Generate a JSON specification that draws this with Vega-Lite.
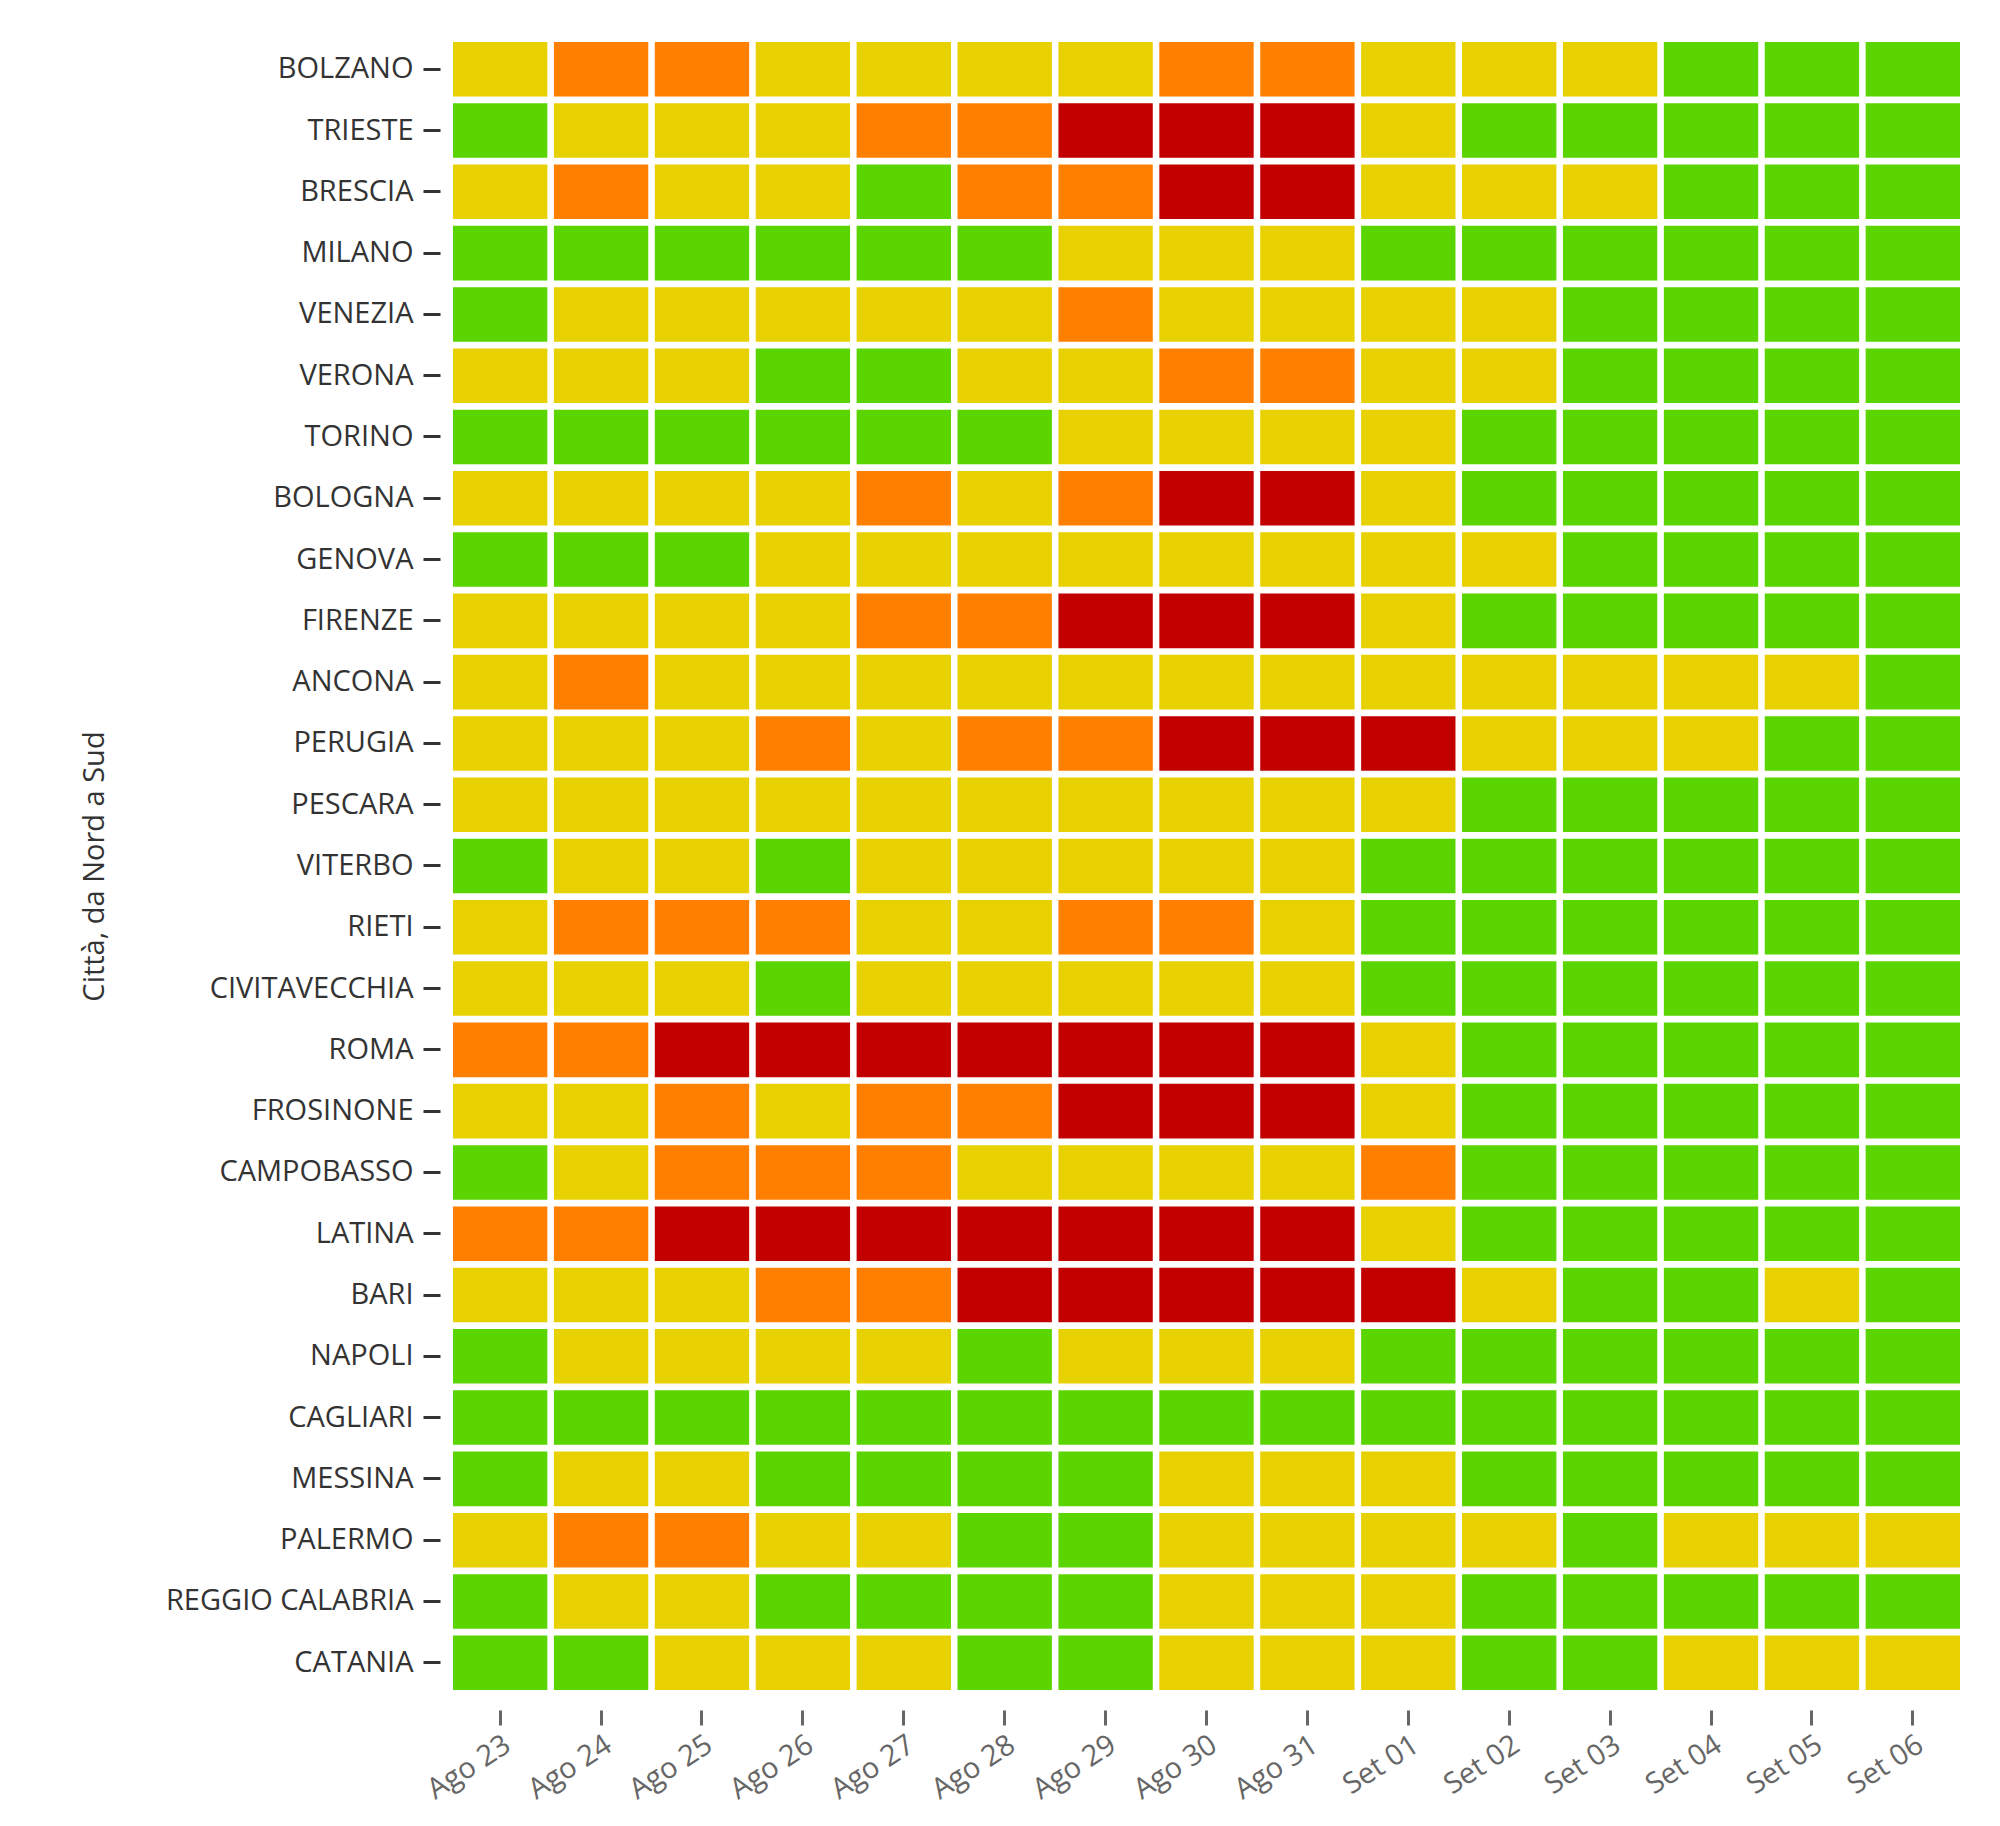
{
  "$schema": "https://vega.github.io/schema/vega-lite/v6.json",
  "width": 1507,
  "height": 1648,
  "autosize": "none",
  "padding": {"left": 453, "top": 42, "right": 40, "bottom": 136},
  "datasets": {
    "celle": [
      {"citta":"BOLZANO","giorno":"Ago 23","livello":1},{"citta":"BOLZANO","giorno":"Ago 24","livello":2},{"citta":"BOLZANO","giorno":"Ago 25","livello":2},{"citta":"BOLZANO","giorno":"Ago 26","livello":1},{"citta":"BOLZANO","giorno":"Ago 27","livello":1},{"citta":"BOLZANO","giorno":"Ago 28","livello":1},{"citta":"BOLZANO","giorno":"Ago 29","livello":1},{"citta":"BOLZANO","giorno":"Ago 30","livello":2},{"citta":"BOLZANO","giorno":"Ago 31","livello":2},{"citta":"BOLZANO","giorno":"Set 01","livello":1},{"citta":"BOLZANO","giorno":"Set 02","livello":1},{"citta":"BOLZANO","giorno":"Set 03","livello":1},{"citta":"BOLZANO","giorno":"Set 04","livello":0},{"citta":"BOLZANO","giorno":"Set 05","livello":0},{"citta":"BOLZANO","giorno":"Set 06","livello":0},
      {"citta":"TRIESTE","giorno":"Ago 23","livello":0},{"citta":"TRIESTE","giorno":"Ago 24","livello":1},{"citta":"TRIESTE","giorno":"Ago 25","livello":1},{"citta":"TRIESTE","giorno":"Ago 26","livello":1},{"citta":"TRIESTE","giorno":"Ago 27","livello":2},{"citta":"TRIESTE","giorno":"Ago 28","livello":2},{"citta":"TRIESTE","giorno":"Ago 29","livello":3},{"citta":"TRIESTE","giorno":"Ago 30","livello":3},{"citta":"TRIESTE","giorno":"Ago 31","livello":3},{"citta":"TRIESTE","giorno":"Set 01","livello":1},{"citta":"TRIESTE","giorno":"Set 02","livello":0},{"citta":"TRIESTE","giorno":"Set 03","livello":0},{"citta":"TRIESTE","giorno":"Set 04","livello":0},{"citta":"TRIESTE","giorno":"Set 05","livello":0},{"citta":"TRIESTE","giorno":"Set 06","livello":0},
      {"citta":"BRESCIA","giorno":"Ago 23","livello":1},{"citta":"BRESCIA","giorno":"Ago 24","livello":2},{"citta":"BRESCIA","giorno":"Ago 25","livello":1},{"citta":"BRESCIA","giorno":"Ago 26","livello":1},{"citta":"BRESCIA","giorno":"Ago 27","livello":0},{"citta":"BRESCIA","giorno":"Ago 28","livello":2},{"citta":"BRESCIA","giorno":"Ago 29","livello":2},{"citta":"BRESCIA","giorno":"Ago 30","livello":3},{"citta":"BRESCIA","giorno":"Ago 31","livello":3},{"citta":"BRESCIA","giorno":"Set 01","livello":1},{"citta":"BRESCIA","giorno":"Set 02","livello":1},{"citta":"BRESCIA","giorno":"Set 03","livello":1},{"citta":"BRESCIA","giorno":"Set 04","livello":0},{"citta":"BRESCIA","giorno":"Set 05","livello":0},{"citta":"BRESCIA","giorno":"Set 06","livello":0},
      {"citta":"MILANO","giorno":"Ago 23","livello":0},{"citta":"MILANO","giorno":"Ago 24","livello":0},{"citta":"MILANO","giorno":"Ago 25","livello":0},{"citta":"MILANO","giorno":"Ago 26","livello":0},{"citta":"MILANO","giorno":"Ago 27","livello":0},{"citta":"MILANO","giorno":"Ago 28","livello":0},{"citta":"MILANO","giorno":"Ago 29","livello":1},{"citta":"MILANO","giorno":"Ago 30","livello":1},{"citta":"MILANO","giorno":"Ago 31","livello":1},{"citta":"MILANO","giorno":"Set 01","livello":0},{"citta":"MILANO","giorno":"Set 02","livello":0},{"citta":"MILANO","giorno":"Set 03","livello":0},{"citta":"MILANO","giorno":"Set 04","livello":0},{"citta":"MILANO","giorno":"Set 05","livello":0},{"citta":"MILANO","giorno":"Set 06","livello":0},
      {"citta":"VENEZIA","giorno":"Ago 23","livello":0},{"citta":"VENEZIA","giorno":"Ago 24","livello":1},{"citta":"VENEZIA","giorno":"Ago 25","livello":1},{"citta":"VENEZIA","giorno":"Ago 26","livello":1},{"citta":"VENEZIA","giorno":"Ago 27","livello":1},{"citta":"VENEZIA","giorno":"Ago 28","livello":1},{"citta":"VENEZIA","giorno":"Ago 29","livello":2},{"citta":"VENEZIA","giorno":"Ago 30","livello":1},{"citta":"VENEZIA","giorno":"Ago 31","livello":1},{"citta":"VENEZIA","giorno":"Set 01","livello":1},{"citta":"VENEZIA","giorno":"Set 02","livello":1},{"citta":"VENEZIA","giorno":"Set 03","livello":0},{"citta":"VENEZIA","giorno":"Set 04","livello":0},{"citta":"VENEZIA","giorno":"Set 05","livello":0},{"citta":"VENEZIA","giorno":"Set 06","livello":0},
      {"citta":"VERONA","giorno":"Ago 23","livello":1},{"citta":"VERONA","giorno":"Ago 24","livello":1},{"citta":"VERONA","giorno":"Ago 25","livello":1},{"citta":"VERONA","giorno":"Ago 26","livello":0},{"citta":"VERONA","giorno":"Ago 27","livello":0},{"citta":"VERONA","giorno":"Ago 28","livello":1},{"citta":"VERONA","giorno":"Ago 29","livello":1},{"citta":"VERONA","giorno":"Ago 30","livello":2},{"citta":"VERONA","giorno":"Ago 31","livello":2},{"citta":"VERONA","giorno":"Set 01","livello":1},{"citta":"VERONA","giorno":"Set 02","livello":1},{"citta":"VERONA","giorno":"Set 03","livello":0},{"citta":"VERONA","giorno":"Set 04","livello":0},{"citta":"VERONA","giorno":"Set 05","livello":0},{"citta":"VERONA","giorno":"Set 06","livello":0},
      {"citta":"TORINO","giorno":"Ago 23","livello":0},{"citta":"TORINO","giorno":"Ago 24","livello":0},{"citta":"TORINO","giorno":"Ago 25","livello":0},{"citta":"TORINO","giorno":"Ago 26","livello":0},{"citta":"TORINO","giorno":"Ago 27","livello":0},{"citta":"TORINO","giorno":"Ago 28","livello":0},{"citta":"TORINO","giorno":"Ago 29","livello":1},{"citta":"TORINO","giorno":"Ago 30","livello":1},{"citta":"TORINO","giorno":"Ago 31","livello":1},{"citta":"TORINO","giorno":"Set 01","livello":1},{"citta":"TORINO","giorno":"Set 02","livello":0},{"citta":"TORINO","giorno":"Set 03","livello":0},{"citta":"TORINO","giorno":"Set 04","livello":0},{"citta":"TORINO","giorno":"Set 05","livello":0},{"citta":"TORINO","giorno":"Set 06","livello":0},
      {"citta":"BOLOGNA","giorno":"Ago 23","livello":1},{"citta":"BOLOGNA","giorno":"Ago 24","livello":1},{"citta":"BOLOGNA","giorno":"Ago 25","livello":1},{"citta":"BOLOGNA","giorno":"Ago 26","livello":1},{"citta":"BOLOGNA","giorno":"Ago 27","livello":2},{"citta":"BOLOGNA","giorno":"Ago 28","livello":1},{"citta":"BOLOGNA","giorno":"Ago 29","livello":2},{"citta":"BOLOGNA","giorno":"Ago 30","livello":3},{"citta":"BOLOGNA","giorno":"Ago 31","livello":3},{"citta":"BOLOGNA","giorno":"Set 01","livello":1},{"citta":"BOLOGNA","giorno":"Set 02","livello":0},{"citta":"BOLOGNA","giorno":"Set 03","livello":0},{"citta":"BOLOGNA","giorno":"Set 04","livello":0},{"citta":"BOLOGNA","giorno":"Set 05","livello":0},{"citta":"BOLOGNA","giorno":"Set 06","livello":0},
      {"citta":"GENOVA","giorno":"Ago 23","livello":0},{"citta":"GENOVA","giorno":"Ago 24","livello":0},{"citta":"GENOVA","giorno":"Ago 25","livello":0},{"citta":"GENOVA","giorno":"Ago 26","livello":1},{"citta":"GENOVA","giorno":"Ago 27","livello":1},{"citta":"GENOVA","giorno":"Ago 28","livello":1},{"citta":"GENOVA","giorno":"Ago 29","livello":1},{"citta":"GENOVA","giorno":"Ago 30","livello":1},{"citta":"GENOVA","giorno":"Ago 31","livello":1},{"citta":"GENOVA","giorno":"Set 01","livello":1},{"citta":"GENOVA","giorno":"Set 02","livello":1},{"citta":"GENOVA","giorno":"Set 03","livello":0},{"citta":"GENOVA","giorno":"Set 04","livello":0},{"citta":"GENOVA","giorno":"Set 05","livello":0},{"citta":"GENOVA","giorno":"Set 06","livello":0},
      {"citta":"FIRENZE","giorno":"Ago 23","livello":1},{"citta":"FIRENZE","giorno":"Ago 24","livello":1},{"citta":"FIRENZE","giorno":"Ago 25","livello":1},{"citta":"FIRENZE","giorno":"Ago 26","livello":1},{"citta":"FIRENZE","giorno":"Ago 27","livello":2},{"citta":"FIRENZE","giorno":"Ago 28","livello":2},{"citta":"FIRENZE","giorno":"Ago 29","livello":3},{"citta":"FIRENZE","giorno":"Ago 30","livello":3},{"citta":"FIRENZE","giorno":"Ago 31","livello":3},{"citta":"FIRENZE","giorno":"Set 01","livello":1},{"citta":"FIRENZE","giorno":"Set 02","livello":0},{"citta":"FIRENZE","giorno":"Set 03","livello":0},{"citta":"FIRENZE","giorno":"Set 04","livello":0},{"citta":"FIRENZE","giorno":"Set 05","livello":0},{"citta":"FIRENZE","giorno":"Set 06","livello":0},
      {"citta":"ANCONA","giorno":"Ago 23","livello":1},{"citta":"ANCONA","giorno":"Ago 24","livello":2},{"citta":"ANCONA","giorno":"Ago 25","livello":1},{"citta":"ANCONA","giorno":"Ago 26","livello":1},{"citta":"ANCONA","giorno":"Ago 27","livello":1},{"citta":"ANCONA","giorno":"Ago 28","livello":1},{"citta":"ANCONA","giorno":"Ago 29","livello":1},{"citta":"ANCONA","giorno":"Ago 30","livello":1},{"citta":"ANCONA","giorno":"Ago 31","livello":1},{"citta":"ANCONA","giorno":"Set 01","livello":1},{"citta":"ANCONA","giorno":"Set 02","livello":1},{"citta":"ANCONA","giorno":"Set 03","livello":1},{"citta":"ANCONA","giorno":"Set 04","livello":1},{"citta":"ANCONA","giorno":"Set 05","livello":1},{"citta":"ANCONA","giorno":"Set 06","livello":0},
      {"citta":"PERUGIA","giorno":"Ago 23","livello":1},{"citta":"PERUGIA","giorno":"Ago 24","livello":1},{"citta":"PERUGIA","giorno":"Ago 25","livello":1},{"citta":"PERUGIA","giorno":"Ago 26","livello":2},{"citta":"PERUGIA","giorno":"Ago 27","livello":1},{"citta":"PERUGIA","giorno":"Ago 28","livello":2},{"citta":"PERUGIA","giorno":"Ago 29","livello":2},{"citta":"PERUGIA","giorno":"Ago 30","livello":3},{"citta":"PERUGIA","giorno":"Ago 31","livello":3},{"citta":"PERUGIA","giorno":"Set 01","livello":3},{"citta":"PERUGIA","giorno":"Set 02","livello":1},{"citta":"PERUGIA","giorno":"Set 03","livello":1},{"citta":"PERUGIA","giorno":"Set 04","livello":1},{"citta":"PERUGIA","giorno":"Set 05","livello":0},{"citta":"PERUGIA","giorno":"Set 06","livello":0},
      {"citta":"PESCARA","giorno":"Ago 23","livello":1},{"citta":"PESCARA","giorno":"Ago 24","livello":1},{"citta":"PESCARA","giorno":"Ago 25","livello":1},{"citta":"PESCARA","giorno":"Ago 26","livello":1},{"citta":"PESCARA","giorno":"Ago 27","livello":1},{"citta":"PESCARA","giorno":"Ago 28","livello":1},{"citta":"PESCARA","giorno":"Ago 29","livello":1},{"citta":"PESCARA","giorno":"Ago 30","livello":1},{"citta":"PESCARA","giorno":"Ago 31","livello":1},{"citta":"PESCARA","giorno":"Set 01","livello":1},{"citta":"PESCARA","giorno":"Set 02","livello":0},{"citta":"PESCARA","giorno":"Set 03","livello":0},{"citta":"PESCARA","giorno":"Set 04","livello":0},{"citta":"PESCARA","giorno":"Set 05","livello":0},{"citta":"PESCARA","giorno":"Set 06","livello":0},
      {"citta":"VITERBO","giorno":"Ago 23","livello":0},{"citta":"VITERBO","giorno":"Ago 24","livello":1},{"citta":"VITERBO","giorno":"Ago 25","livello":1},{"citta":"VITERBO","giorno":"Ago 26","livello":0},{"citta":"VITERBO","giorno":"Ago 27","livello":1},{"citta":"VITERBO","giorno":"Ago 28","livello":1},{"citta":"VITERBO","giorno":"Ago 29","livello":1},{"citta":"VITERBO","giorno":"Ago 30","livello":1},{"citta":"VITERBO","giorno":"Ago 31","livello":1},{"citta":"VITERBO","giorno":"Set 01","livello":0},{"citta":"VITERBO","giorno":"Set 02","livello":0},{"citta":"VITERBO","giorno":"Set 03","livello":0},{"citta":"VITERBO","giorno":"Set 04","livello":0},{"citta":"VITERBO","giorno":"Set 05","livello":0},{"citta":"VITERBO","giorno":"Set 06","livello":0},
      {"citta":"RIETI","giorno":"Ago 23","livello":1},{"citta":"RIETI","giorno":"Ago 24","livello":2},{"citta":"RIETI","giorno":"Ago 25","livello":2},{"citta":"RIETI","giorno":"Ago 26","livello":2},{"citta":"RIETI","giorno":"Ago 27","livello":1},{"citta":"RIETI","giorno":"Ago 28","livello":1},{"citta":"RIETI","giorno":"Ago 29","livello":2},{"citta":"RIETI","giorno":"Ago 30","livello":2},{"citta":"RIETI","giorno":"Ago 31","livello":1},{"citta":"RIETI","giorno":"Set 01","livello":0},{"citta":"RIETI","giorno":"Set 02","livello":0},{"citta":"RIETI","giorno":"Set 03","livello":0},{"citta":"RIETI","giorno":"Set 04","livello":0},{"citta":"RIETI","giorno":"Set 05","livello":0},{"citta":"RIETI","giorno":"Set 06","livello":0},
      {"citta":"CIVITAVECCHIA","giorno":"Ago 23","livello":1},{"citta":"CIVITAVECCHIA","giorno":"Ago 24","livello":1},{"citta":"CIVITAVECCHIA","giorno":"Ago 25","livello":1},{"citta":"CIVITAVECCHIA","giorno":"Ago 26","livello":0},{"citta":"CIVITAVECCHIA","giorno":"Ago 27","livello":1},{"citta":"CIVITAVECCHIA","giorno":"Ago 28","livello":1},{"citta":"CIVITAVECCHIA","giorno":"Ago 29","livello":1},{"citta":"CIVITAVECCHIA","giorno":"Ago 30","livello":1},{"citta":"CIVITAVECCHIA","giorno":"Ago 31","livello":1},{"citta":"CIVITAVECCHIA","giorno":"Set 01","livello":0},{"citta":"CIVITAVECCHIA","giorno":"Set 02","livello":0},{"citta":"CIVITAVECCHIA","giorno":"Set 03","livello":0},{"citta":"CIVITAVECCHIA","giorno":"Set 04","livello":0},{"citta":"CIVITAVECCHIA","giorno":"Set 05","livello":0},{"citta":"CIVITAVECCHIA","giorno":"Set 06","livello":0},
      {"citta":"ROMA","giorno":"Ago 23","livello":2},{"citta":"ROMA","giorno":"Ago 24","livello":2},{"citta":"ROMA","giorno":"Ago 25","livello":3},{"citta":"ROMA","giorno":"Ago 26","livello":3},{"citta":"ROMA","giorno":"Ago 27","livello":3},{"citta":"ROMA","giorno":"Ago 28","livello":3},{"citta":"ROMA","giorno":"Ago 29","livello":3},{"citta":"ROMA","giorno":"Ago 30","livello":3},{"citta":"ROMA","giorno":"Ago 31","livello":3},{"citta":"ROMA","giorno":"Set 01","livello":1},{"citta":"ROMA","giorno":"Set 02","livello":0},{"citta":"ROMA","giorno":"Set 03","livello":0},{"citta":"ROMA","giorno":"Set 04","livello":0},{"citta":"ROMA","giorno":"Set 05","livello":0},{"citta":"ROMA","giorno":"Set 06","livello":0},
      {"citta":"FROSINONE","giorno":"Ago 23","livello":1},{"citta":"FROSINONE","giorno":"Ago 24","livello":1},{"citta":"FROSINONE","giorno":"Ago 25","livello":2},{"citta":"FROSINONE","giorno":"Ago 26","livello":1},{"citta":"FROSINONE","giorno":"Ago 27","livello":2},{"citta":"FROSINONE","giorno":"Ago 28","livello":2},{"citta":"FROSINONE","giorno":"Ago 29","livello":3},{"citta":"FROSINONE","giorno":"Ago 30","livello":3},{"citta":"FROSINONE","giorno":"Ago 31","livello":3},{"citta":"FROSINONE","giorno":"Set 01","livello":1},{"citta":"FROSINONE","giorno":"Set 02","livello":0},{"citta":"FROSINONE","giorno":"Set 03","livello":0},{"citta":"FROSINONE","giorno":"Set 04","livello":0},{"citta":"FROSINONE","giorno":"Set 05","livello":0},{"citta":"FROSINONE","giorno":"Set 06","livello":0},
      {"citta":"CAMPOBASSO","giorno":"Ago 23","livello":0},{"citta":"CAMPOBASSO","giorno":"Ago 24","livello":1},{"citta":"CAMPOBASSO","giorno":"Ago 25","livello":2},{"citta":"CAMPOBASSO","giorno":"Ago 26","livello":2},{"citta":"CAMPOBASSO","giorno":"Ago 27","livello":2},{"citta":"CAMPOBASSO","giorno":"Ago 28","livello":1},{"citta":"CAMPOBASSO","giorno":"Ago 29","livello":1},{"citta":"CAMPOBASSO","giorno":"Ago 30","livello":1},{"citta":"CAMPOBASSO","giorno":"Ago 31","livello":1},{"citta":"CAMPOBASSO","giorno":"Set 01","livello":2},{"citta":"CAMPOBASSO","giorno":"Set 02","livello":0},{"citta":"CAMPOBASSO","giorno":"Set 03","livello":0},{"citta":"CAMPOBASSO","giorno":"Set 04","livello":0},{"citta":"CAMPOBASSO","giorno":"Set 05","livello":0},{"citta":"CAMPOBASSO","giorno":"Set 06","livello":0},
      {"citta":"LATINA","giorno":"Ago 23","livello":2},{"citta":"LATINA","giorno":"Ago 24","livello":2},{"citta":"LATINA","giorno":"Ago 25","livello":3},{"citta":"LATINA","giorno":"Ago 26","livello":3},{"citta":"LATINA","giorno":"Ago 27","livello":3},{"citta":"LATINA","giorno":"Ago 28","livello":3},{"citta":"LATINA","giorno":"Ago 29","livello":3},{"citta":"LATINA","giorno":"Ago 30","livello":3},{"citta":"LATINA","giorno":"Ago 31","livello":3},{"citta":"LATINA","giorno":"Set 01","livello":1},{"citta":"LATINA","giorno":"Set 02","livello":0},{"citta":"LATINA","giorno":"Set 03","livello":0},{"citta":"LATINA","giorno":"Set 04","livello":0},{"citta":"LATINA","giorno":"Set 05","livello":0},{"citta":"LATINA","giorno":"Set 06","livello":0},
      {"citta":"BARI","giorno":"Ago 23","livello":1},{"citta":"BARI","giorno":"Ago 24","livello":1},{"citta":"BARI","giorno":"Ago 25","livello":1},{"citta":"BARI","giorno":"Ago 26","livello":2},{"citta":"BARI","giorno":"Ago 27","livello":2},{"citta":"BARI","giorno":"Ago 28","livello":3},{"citta":"BARI","giorno":"Ago 29","livello":3},{"citta":"BARI","giorno":"Ago 30","livello":3},{"citta":"BARI","giorno":"Ago 31","livello":3},{"citta":"BARI","giorno":"Set 01","livello":3},{"citta":"BARI","giorno":"Set 02","livello":1},{"citta":"BARI","giorno":"Set 03","livello":0},{"citta":"BARI","giorno":"Set 04","livello":0},{"citta":"BARI","giorno":"Set 05","livello":1},{"citta":"BARI","giorno":"Set 06","livello":0},
      {"citta":"NAPOLI","giorno":"Ago 23","livello":0},{"citta":"NAPOLI","giorno":"Ago 24","livello":1},{"citta":"NAPOLI","giorno":"Ago 25","livello":1},{"citta":"NAPOLI","giorno":"Ago 26","livello":1},{"citta":"NAPOLI","giorno":"Ago 27","livello":1},{"citta":"NAPOLI","giorno":"Ago 28","livello":0},{"citta":"NAPOLI","giorno":"Ago 29","livello":1},{"citta":"NAPOLI","giorno":"Ago 30","livello":1},{"citta":"NAPOLI","giorno":"Ago 31","livello":1},{"citta":"NAPOLI","giorno":"Set 01","livello":0},{"citta":"NAPOLI","giorno":"Set 02","livello":0},{"citta":"NAPOLI","giorno":"Set 03","livello":0},{"citta":"NAPOLI","giorno":"Set 04","livello":0},{"citta":"NAPOLI","giorno":"Set 05","livello":0},{"citta":"NAPOLI","giorno":"Set 06","livello":0},
      {"citta":"CAGLIARI","giorno":"Ago 23","livello":0},{"citta":"CAGLIARI","giorno":"Ago 24","livello":0},{"citta":"CAGLIARI","giorno":"Ago 25","livello":0},{"citta":"CAGLIARI","giorno":"Ago 26","livello":0},{"citta":"CAGLIARI","giorno":"Ago 27","livello":0},{"citta":"CAGLIARI","giorno":"Ago 28","livello":0},{"citta":"CAGLIARI","giorno":"Ago 29","livello":0},{"citta":"CAGLIARI","giorno":"Ago 30","livello":0},{"citta":"CAGLIARI","giorno":"Ago 31","livello":0},{"citta":"CAGLIARI","giorno":"Set 01","livello":0},{"citta":"CAGLIARI","giorno":"Set 02","livello":0},{"citta":"CAGLIARI","giorno":"Set 03","livello":0},{"citta":"CAGLIARI","giorno":"Set 04","livello":0},{"citta":"CAGLIARI","giorno":"Set 05","livello":0},{"citta":"CAGLIARI","giorno":"Set 06","livello":0},
      {"citta":"MESSINA","giorno":"Ago 23","livello":0},{"citta":"MESSINA","giorno":"Ago 24","livello":1},{"citta":"MESSINA","giorno":"Ago 25","livello":1},{"citta":"MESSINA","giorno":"Ago 26","livello":0},{"citta":"MESSINA","giorno":"Ago 27","livello":0},{"citta":"MESSINA","giorno":"Ago 28","livello":0},{"citta":"MESSINA","giorno":"Ago 29","livello":0},{"citta":"MESSINA","giorno":"Ago 30","livello":1},{"citta":"MESSINA","giorno":"Ago 31","livello":1},{"citta":"MESSINA","giorno":"Set 01","livello":1},{"citta":"MESSINA","giorno":"Set 02","livello":0},{"citta":"MESSINA","giorno":"Set 03","livello":0},{"citta":"MESSINA","giorno":"Set 04","livello":0},{"citta":"MESSINA","giorno":"Set 05","livello":0},{"citta":"MESSINA","giorno":"Set 06","livello":0},
      {"citta":"PALERMO","giorno":"Ago 23","livello":1},{"citta":"PALERMO","giorno":"Ago 24","livello":2},{"citta":"PALERMO","giorno":"Ago 25","livello":2},{"citta":"PALERMO","giorno":"Ago 26","livello":1},{"citta":"PALERMO","giorno":"Ago 27","livello":1},{"citta":"PALERMO","giorno":"Ago 28","livello":0},{"citta":"PALERMO","giorno":"Ago 29","livello":0},{"citta":"PALERMO","giorno":"Ago 30","livello":1},{"citta":"PALERMO","giorno":"Ago 31","livello":1},{"citta":"PALERMO","giorno":"Set 01","livello":1},{"citta":"PALERMO","giorno":"Set 02","livello":1},{"citta":"PALERMO","giorno":"Set 03","livello":0},{"citta":"PALERMO","giorno":"Set 04","livello":1},{"citta":"PALERMO","giorno":"Set 05","livello":1},{"citta":"PALERMO","giorno":"Set 06","livello":1},
      {"citta":"REGGIO CALABRIA","giorno":"Ago 23","livello":0},{"citta":"REGGIO CALABRIA","giorno":"Ago 24","livello":1},{"citta":"REGGIO CALABRIA","giorno":"Ago 25","livello":1},{"citta":"REGGIO CALABRIA","giorno":"Ago 26","livello":0},{"citta":"REGGIO CALABRIA","giorno":"Ago 27","livello":0},{"citta":"REGGIO CALABRIA","giorno":"Ago 28","livello":0},{"citta":"REGGIO CALABRIA","giorno":"Ago 29","livello":0},{"citta":"REGGIO CALABRIA","giorno":"Ago 30","livello":1},{"citta":"REGGIO CALABRIA","giorno":"Ago 31","livello":1},{"citta":"REGGIO CALABRIA","giorno":"Set 01","livello":1},{"citta":"REGGIO CALABRIA","giorno":"Set 02","livello":0},{"citta":"REGGIO CALABRIA","giorno":"Set 03","livello":0},{"citta":"REGGIO CALABRIA","giorno":"Set 04","livello":0},{"citta":"REGGIO CALABRIA","giorno":"Set 05","livello":0},{"citta":"REGGIO CALABRIA","giorno":"Set 06","livello":0},
      {"citta":"CATANIA","giorno":"Ago 23","livello":0},{"citta":"CATANIA","giorno":"Ago 24","livello":0},{"citta":"CATANIA","giorno":"Ago 25","livello":1},{"citta":"CATANIA","giorno":"Ago 26","livello":1},{"citta":"CATANIA","giorno":"Ago 27","livello":1},{"citta":"CATANIA","giorno":"Ago 28","livello":0},{"citta":"CATANIA","giorno":"Ago 29","livello":0},{"citta":"CATANIA","giorno":"Ago 30","livello":1},{"citta":"CATANIA","giorno":"Ago 31","livello":1},{"citta":"CATANIA","giorno":"Set 01","livello":1},{"citta":"CATANIA","giorno":"Set 02","livello":0},{"citta":"CATANIA","giorno":"Set 03","livello":0},{"citta":"CATANIA","giorno":"Set 04","livello":1},{"citta":"CATANIA","giorno":"Set 05","livello":1},{"citta":"CATANIA","giorno":"Set 06","livello":1}
    ]
  },
  "data": {"name": "celle"},
  "mark": {"type": "rect"},
  "encoding": {
    "x": {
      "field": "giorno",
      "type": "ordinal",
      "sort": ["Ago 23","Ago 24","Ago 25","Ago 26","Ago 27","Ago 28","Ago 29","Ago 30","Ago 31","Set 01","Set 02","Set 03","Set 04","Set 05","Set 06"],
      "scale": {"paddingInner": 0.065, "paddingOuter": 0},
      "axis": {
        "title": null,
        "labelAngle": -33,
        "labelFontSize": 29,
        "labelColor": "#666666",
        "labelPadding": 5,
        "tickSize": 15,
        "tickWidth": 3,
        "tickColor": "#666666",
        "offset": 20,
        "domain": false,
        "grid": false
      }
    },
    "y": {
      "field": "citta",
      "type": "nominal",
      "sort": ["BOLZANO","TRIESTE","BRESCIA","MILANO","VENEZIA","VERONA","TORINO","BOLOGNA","GENOVA","FIRENZE","ANCONA","PERUGIA","PESCARA","VITERBO","RIETI","CIVITAVECCHIA","ROMA","FROSINONE","CAMPOBASSO","LATINA","BARI","NAPOLI","CAGLIARI","MESSINA","PALERMO","REGGIO CALABRIA","CATANIA"],
      "scale": {"paddingInner": 0.11, "paddingOuter": 0},
      "axis": {
        "title": "Città, da Nord a Sud",
        "titleFontSize": 29,
        "titleFontWeight": "normal",
        "titleColor": "#333333",
        "titlePadding": 131,
        "labelFontSize": 29,
        "labelLimit": 0,
        "labelColor": "#333333",
        "labelPadding": 10,
        "tickSize": 17,
        "tickWidth": 3,
        "tickColor": "#333333",
        "offset": 13,
        "domain": false,
        "grid": false
      }
    },
    "color": {
      "field": "livello",
      "type": "ordinal",
      "scale": {"domain": [0, 1, 2, 3], "range": ["#5ad500", "#e8d100", "#ff7f00", "#c20000"]},
      "legend": null
    }
  },
  "config": {
    "view": {"stroke": null},
    "font": "Open Sans"
  }
}
